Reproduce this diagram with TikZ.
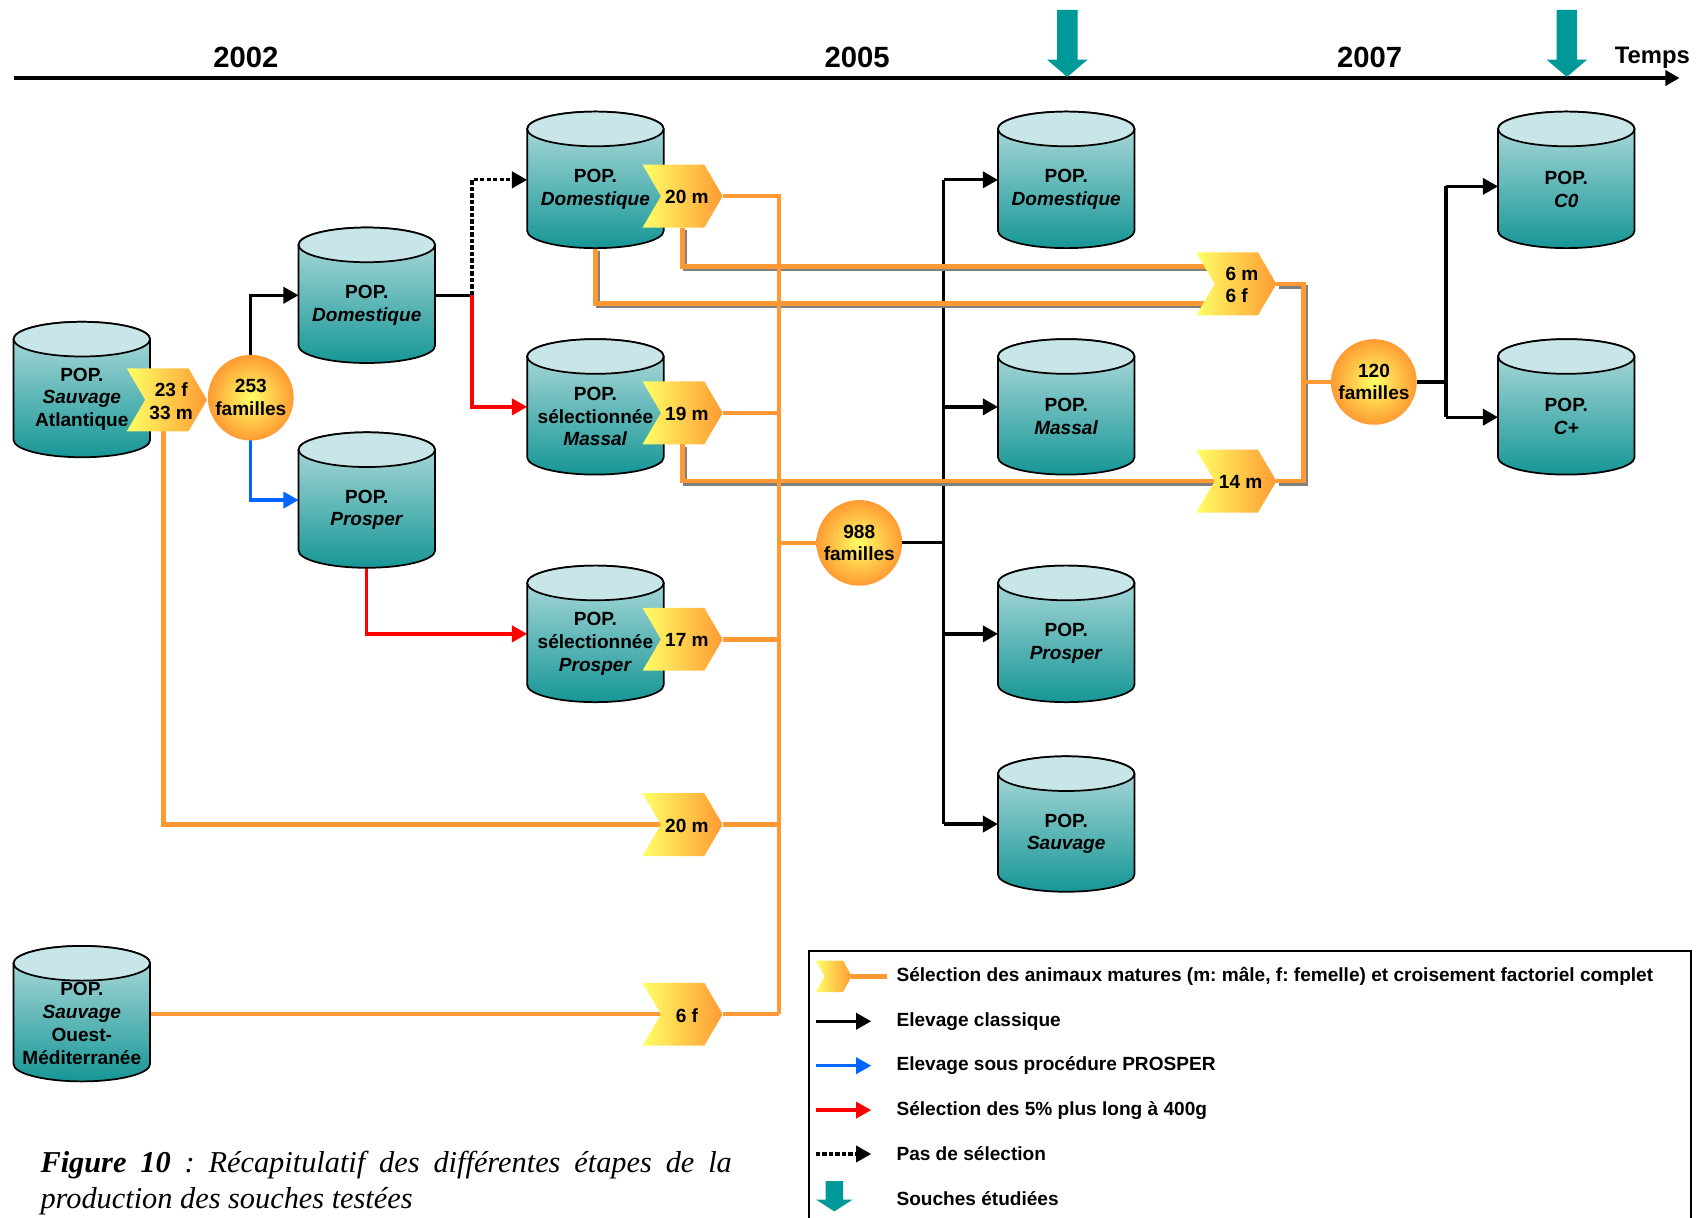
\documentclass[tikz,border=0pt]{standalone}
\usepackage{fontspec}
\setmainfont{Liberation Sans}
\newfontfamily\capfont{Liberation Serif}
\usetikzlibrary{arrows.meta,calc}
\frenchspacing
\definecolor{cylTop}{RGB}{184,222,223}
\definecolor{cylBot}{RGB}{22,150,150}
\definecolor{cylEnd}{RGB}{200,230,232}
\definecolor{chevL}{RGB}{255,255,102}
\definecolor{chevR}{RGB}{255,155,50}
\definecolor{orangeL}{RGB}{255,153,51}
\definecolor{tealA}{RGB}{0,153,153}
\definecolor{blueA}{RGB}{0,102,255}
\definecolor{redA}{RGB}{255,0,0}
\definecolor{shadowG}{RGB}{128,128,128}
\pgfdeclarelayer{background}
\pgfsetlayers{background,main}
\newcommand\myptfont{\fontsize{8.8}{10.5}\selectfont\bfseries}
% cylinder: name, cx, ytop, ybot, text
\newcommand\cylnode[5]{%
  \shade[top color=cylTop, bottom color=cylBot, draw=black, line width=0.8pt]
    ({#2-63},{#3+16}) -- ({#2-63},{#4-16})
    arc[start angle=180, end angle=360, x radius=31.5pt, y radius=8pt]
    -- ({#2+63},{#3+16})
    arc[start angle=0, end angle=180, x radius=31.5pt, y radius=8pt] -- cycle;
  \filldraw[fill=cylEnd, draw=black, line width=0.8pt] (#2,{#3+16}) ellipse[x radius=31.5pt, y radius=8pt];
  \node[cylbox, minimum height={(#4-#3)*0.5pt}] (#1) at (#2,{(#3+#4)/2}) {};
  \node[ptext] (#1t) at ($(#1.center)+(0,9)$) {#5};
}
% chevron: [text opts] name, xleft, ycenter, text
\newcommand\chevnode[5][]{%
  \shade[left color=chevL, right color=chevR]
    (#3,{#4-29}) -- ({#3+57},{#4-29}) -- ({#3+74},#4) -- ({#3+57},{#4+29})
    -- (#3,{#4+29}) -- ({#3+17},#4) -- cycle;
  \node[chevbox] (#2) at ({#3+37},#4) {};
  \node[ptext,#1] (#2t) at ({#3+41},{#4+1}) {#5};
}
\begin{document}
\begin{tikzpicture}[x=0.5pt,y=-0.5pt,
  ptext/.style={font=\myptfont, align=center, inner sep=0pt, outer sep=0pt, text=black},
  cylbox/.style={rectangle, draw=none, minimum width=63pt, inner sep=0pt, outer sep=0pt},
  chevbox/.style={rectangle, draw=none, minimum width=37pt, minimum height=29pt, inner sep=0pt, outer sep=0pt},
  fam/.style={circle, minimum size=39.5pt, inner sep=0pt, outer sep=0pt, inner color=chevL, outer color=chevR, font=\myptfont, align=center},
  blk/.style={line width=1.5pt, draw=black},
  arr/.style={-{Triangle[length=7pt,width=7.5pt]}},
  dotl/.style={line width=1.5pt, draw=black, dash pattern=on 2pt off 1pt},
  oline/.style={line width=2.1pt, draw=orangeL},
  sline/.style={line width=1.8pt, draw=shadowG},
  year/.style={font=\fontsize{13.5}{16}\selectfont\bfseries, inner sep=0pt, anchor=base},
  ltext/.style={font=\myptfont, inner sep=0pt, anchor=west},
  capnode/.style={font={\capfont\fontsize{14}{16.5}\selectfont\itshape}, text width=319pt, align=justify, inner sep=0pt, anchor=north west},
]
\path[use as bounding box] (0,0) rectangle (1568,1124);

% ---------------- timeline ----------------
\coordinate (t0) at (13,72);
\coordinate (t1) at (1550,72);
\draw[line width=1.5pt, -{Triangle[length=6.5pt,width=7pt]}] (t0) -- (t1);
\node[year] (y2002) at (227,62) {2002};
\node[year] (y2005) at (791,62) {2005};
\node[year] (y2007) at (1264,62) {2007};
\node[font=\fontsize{11}{13}\selectfont\bfseries, inner sep=0pt, anchor=base east] (temps) at (1560,59) {Temps};
\fill[tealA] (975.5,9) -- (994.5,9) -- (994.5,55) -- (1003.75,55) -- (985,71) -- (966.25,55) -- (975.5,55) -- cycle;
\fill[tealA] (1436.5,9) -- (1455.5,9) -- (1455.5,55) -- (1464.75,55) -- (1446,71) -- (1427.25,55) -- (1436.5,55) -- cycle;

% ---------------- cylinders ----------------
\cylnode{sauA}{75.5}{297}{422}{POP.\\\textit{Sauvage}\\Atlantique}
\cylnode{domB}{338.5}{210}{335}{POP.\\\textit{Domestique}}
\cylnode{proB}{338.5}{399}{524}{POP.\\\textit{Prosper}}
\cylnode{domA}{549.5}{103}{229}{POP.\\\textit{Domestique}}
\cylnode{masS}{549.5}{313}{438}{POP.\\sélectionnée\\\textit{Massal}}
\cylnode{proS}{549.5}{522}{648}{POP.\\sélectionnée\\\textit{Prosper}}
\cylnode{domC}{984}{103}{229}{POP.\\\textit{Domestique}}
\cylnode{masC}{984}{313}{438}{POP.\\\textit{Massal}}
\cylnode{proC}{984}{522}{648}{POP.\\\textit{Prosper}}
\cylnode{sauC}{984}{698}{823}{POP.\\\textit{Sauvage}}
\cylnode{czero}{1445.5}{103}{229}{POP.\\\textit{C0}}
\cylnode{cplus}{1445.5}{313}{438}{POP.\\\textit{C+}}
\cylnode{sauO}{75.5}{873}{998}{POP.\\\textit{Sauvage}\\Ouest-\\Méditerranée}

% ---------------- chevrons ----------------
\chevnode{cA}{117}{369}{23 f\\33 m}
\chevnode{cB}{593}{181}{20 m}
\chevnode{cC}{593}{381}{19 m}
\chevnode{cD}{593}{590}{17 m}
\chevnode{cE}{593}{761}{20 m}
\chevnode{cF}{593}{936}{6 f}
\chevnode[align=left, anchor=west, xshift=-7pt]{cG}{1104}{262}{6 m\\6 f}
\chevnode{cH}{1104}{444}{14 m}

% ---------------- family circles ----------------
\node[fam] (f253) at (231.5,367) {253\\familles};
\node[fam] (f988) at (793,501) {988\\familles};
\node[fam] (f120) at (1268,352.5) {120\\familles};

% ---------------- legend ----------------
\coordinate (lg1) at (747,1124);
\coordinate (lg2) at (747,878);
\coordinate (lg3) at (1561,878);
\coordinate (lg4) at (1561,1124);
\draw[line width=0.9pt] (lg1) -- (lg2) -- (lg3) -- (lg4);
\shade[left color=chevL, right color=chevR] (753,886.5) -- (778,886.5) -- (786,901) -- (778,915.5) -- (753,915.5) -- (761,901) -- cycle;
\coordinate (lc0) at (785,901);
\node[ltext] (lt1) at (827,901) {Sélection des animaux matures (m: mâle, f: femelle) et croisement factoriel complet};
\node[ltext] (lt2) at (827,942.5) {Elevage classique};
\node[ltext] (lt3) at (827,983.5) {Elevage sous procédure PROSPER};
\node[ltext] (lt4) at (827,1024.5) {Sélection des 5\% plus long à 400g};
\node[ltext] (lt5) at (827,1065) {Pas de sélection};
\node[ltext] (lt6) at (827,1106) {Souches étudiées};
\draw[oline] (lc0) -- ($(lt1.west)+(-8,0)$);
\draw[blk,arr] ($(lt2.west)+(-74,0)$) -- ($(lt2.west)+(-23,0)$);
\draw[blk,draw=blueA,arr] ($(lt3.west)+(-74,0)$) -- ($(lt3.west)+(-23,0)$);
\draw[blk,draw=redA,arr] ($(lt4.west)+(-74,0)$) -- ($(lt4.west)+(-23,0)$);
\draw[dotl,arr] ($(lt5.west)+(-74,0)$) -- ($(lt5.west)+(-23,0)$);
\fill[tealA] (762,1090) -- (778,1090) -- (778,1107) -- (787,1107) -- (770,1118) -- (753,1107) -- (762,1107) -- cycle;

% ---------------- caption ----------------
\node[capnode] (cap) at (37,1062) {\textbf{Figure 10} : Récapitulatif des différentes étapes de la\linebreak production des souches testées};

% ---------------- connectors ----------------
\begin{pgfonlayer}{background}
  \fill[white] (0,0) rectangle (1568,1124);
  % black / coloured arrows
  \coordinate (jD) at ($(domB.east)+(34,0)$);
  \draw[blk,arr] (f253.north) |- (domB.west);
  \draw[blk] (domB.east) -- (jD);
  \draw[dotl,arr] (jD) |- (domA.west);
  \draw[blk,draw=redA,arr] (jD) |- (masS.west);
  \draw[blk,draw=blueA,arr] (f253.south) |- (proB.west);
  \draw[blk,draw=redA,arr] (proB.south) |- (proS.west);
  \coordinate (bT) at ($(f988.east)+(38.5,0)$);
  \draw[blk] (f988.east) -- (bT);
  \draw[blk] (domC.west -| bT) -- (sauC.west -| bT);
  \draw[blk,arr] (domC.west -| bT) -- (domC.west);
  \draw[blk,arr] (masC.west -| bT) -- (masC.west);
  \draw[blk,arr] (proC.west -| bT) -- (proC.west);
  \draw[blk,arr] (sauC.west -| bT) -- (sauC.west);
  \coordinate (bR) at ($(f120.east)+(27,0)$);
  \draw[blk] (f120.east) -- (bR);
  \draw[blk] ($(czero.west -| bR)+(0,6)$) -- ($(cplus.west -| bR)+(0,9.5)$);
  \draw[blk,arr] ($(czero.west -| bR)+(0,6)$) -- ($(czero.west)+(0,6)$);
  \draw[blk,arr] ($(cplus.west -| bR)+(0,9.5)$) -- ($(cplus.west)+(0,9.5)$);
  % grey shadows
  \coordinate (rB) at ($(cG.east)+(25,0)$);
  \begin{scope}[transform canvas={shift={(1.1pt,-1.3pt)}}]
    \draw[sline] (cB.south) |- ($(cG.west)+(14,-16)$);
    \draw[sline] (domA.south) |- ($(cG.west)+(14,18)$);
    \draw[sline] (cC.south) |- ($(cH.west)+(17,0)$);
    \draw[sline] (cG.east) -- (rB) -- (rB |- cH.east) -- (cH.east);
  \end{scope}
  % orange lines
  \coordinate (oX) at ($(cB.east)+(52,0)$);
  \draw[oline] (cB.east) -- (oX) -- (oX |- cF.east);
  \draw[oline] (cC.east) -- (cC.east -| oX);
  \draw[oline] (cD.east) -- (cD.east -| oX);
  \draw[oline] (cE.east) -- (cE.east -| oX);
  \draw[oline] (cF.east) -- (cF.east -| oX);
  \draw[oline] (f988.west -| oX) -- (f988.west);
  \draw[oline] ($(cA.south)+(-3,0)$) |- ($(cE.west)+(17,0)$);
  \draw[oline] (sauO.east |- cF.west) -- ($(cF.west)+(17,0)$);
  \draw[oline] (cB.south) |- ($(cG.west)+(14,-16)$);
  \draw[oline] (domA.south) |- ($(cG.west)+(14,18)$);
  \draw[oline] (cC.south) |- ($(cH.west)+(17,0)$);
  \draw[oline] (cG.east) -- (rB) -- (rB |- cH.east) -- (cH.east);
  \draw[oline] (rB |- f120.west) -- (f120.west);
\end{pgfonlayer}
\end{tikzpicture}
\end{document}
